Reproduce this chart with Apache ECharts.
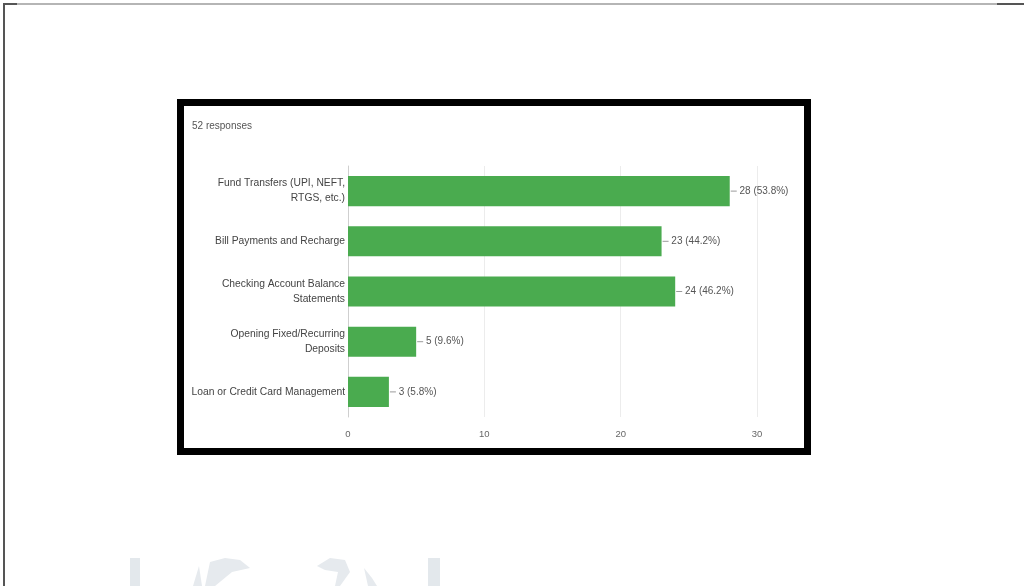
<!DOCTYPE html>
<html>
<head>
<meta charset="utf-8">
<script src="https://cdn.jsdelivr.net/npm/echarts@6/dist/echarts.min.js"></script>
<style>
  html, body { margin: 0; padding: 0; background: #fff; }
  #chart { width: 1024px; height: 586px; }
</style>
</head>
<body>
<div id="chart"></div>
<script>
// Survey: which mobile banking features respondents use
const totalResponses = 52;
const categories = [
  'Fund Transfers (UPI, NEFT,\nRTGS, etc.)',
  'Bill Payments and Recharge',
  'Checking Account Balance\nStatements',
  'Opening Fixed/Recurring\nDeposits',
  'Loan or Credit Card Management'
];
const counts = [28, 23, 24, 5, 3];
const xTicks = [0, 10, 20, 30];

const chart = echarts.init(document.getElementById('chart'));

const option = {
  backgroundColor: '#ffffff',
  animation: false,
  textStyle: { fontFamily: 'Liberation Sans, Arial, sans-serif' },
  grid: { left: 348, right: 267, top: 166, bottom: 169, containLabel: false },
  xAxis: {
    type: 'value',
    min: xTicks[0],
    max: xTicks[xTicks.length - 1],
    interval: 10,
    axisLine: { show: false },
    axisTick: { show: false },
    splitLine: { show: true, lineStyle: { color: '#ececec', width: 1 } },
    axisLabel: { color: '#666', fontSize: 9.5, margin: 12 }
  },
  yAxis: {
    type: 'category',
    inverse: true,
    data: categories,
    axisLine: { show: true, lineStyle: { color: '#cfcfcf', width: 1 } },
    axisTick: { show: false },
    axisLabel: {
      color: '#444',
      fontSize: 10.3,
      lineHeight: 15,
      align: 'right',
      margin: 3
    }
  },
  series: [{
    type: 'bar',
    data: counts,
    barCategoryGap: '40%',
    itemStyle: { color: '#4aab4f' },
    label: {
      show: true,
      position: 'right',
      distance: 1,
      color: '#555',
      fontSize: 10,
      formatter: function (p) {
        const pct = (p.value / totalResponses * 100).toFixed(1);
        return '{tick|}' + ' ' + p.value + ' (' + pct + '%)';
      },
      rich: {
        tick: { width: 6, height: 1, backgroundColor: '#9a9a9a' }
      }
    }
  }],
  graphic: [
    // page edge lines
    { type: 'rect', shape: { x: 3, y: 4, width: 2, height: 582 }, style: { fill: '#555' }, silent: true },
    { type: 'rect', shape: { x: 3, y: 3, width: 1021, height: 2 }, style: { fill: '#b5b5b5' }, silent: true },
    { type: 'rect', shape: { x: 3, y: 3, width: 14, height: 2 }, style: { fill: '#555' }, silent: true },
    { type: 'rect', shape: { x: 997, y: 3, width: 27, height: 2 }, style: { fill: '#555' }, silent: true },
    // thick black frame around the chart
    {
      type: 'rect',
      shape: { x: 180.5, y: 102.5, width: 627, height: 349 },
      style: { fill: 'none', stroke: '#000', lineWidth: 7 },
      silent: true
    },
    {
      type: 'text',
      left: 192, top: 121,
      style: { text: '52 responses', fill: '#555', fontSize: 10, fontFamily: 'Liberation Sans, Arial, sans-serif' },
      silent: true
    },
    // faint watermark strokes at the bottom of the page
    { type: 'rect', shape: { x: 130, y: 558, width: 10, height: 28 }, style: { fill: '#e3e8ec' }, silent: true },
    { type: 'rect', shape: { x: 428, y: 558, width: 12, height: 28 }, style: { fill: '#e3e8ec' }, silent: true },
    { type: 'polygon', shape: { points: [[193, 586], [199, 566], [202, 586]] }, style: { fill: '#e6eaee' }, silent: true },
    { type: 'polygon', shape: { points: [[205, 586], [210, 562], [225, 558], [240, 560], [250, 568], [232, 572], [215, 586]] }, style: { fill: '#e6eaee' }, silent: true },
    { type: 'polygon', shape: { points: [[317, 566], [330, 558], [345, 560], [350, 572], [340, 586], [335, 586], [338, 572], [325, 570]] }, style: { fill: '#e6eaee' }, silent: true },
    { type: 'polygon', shape: { points: [[364, 568], [372, 578], [377, 586], [368, 586]] }, style: { fill: '#e6eaee' }, silent: true }
  ]
};

chart.setOption(option);
</script>
</body>
</html>
